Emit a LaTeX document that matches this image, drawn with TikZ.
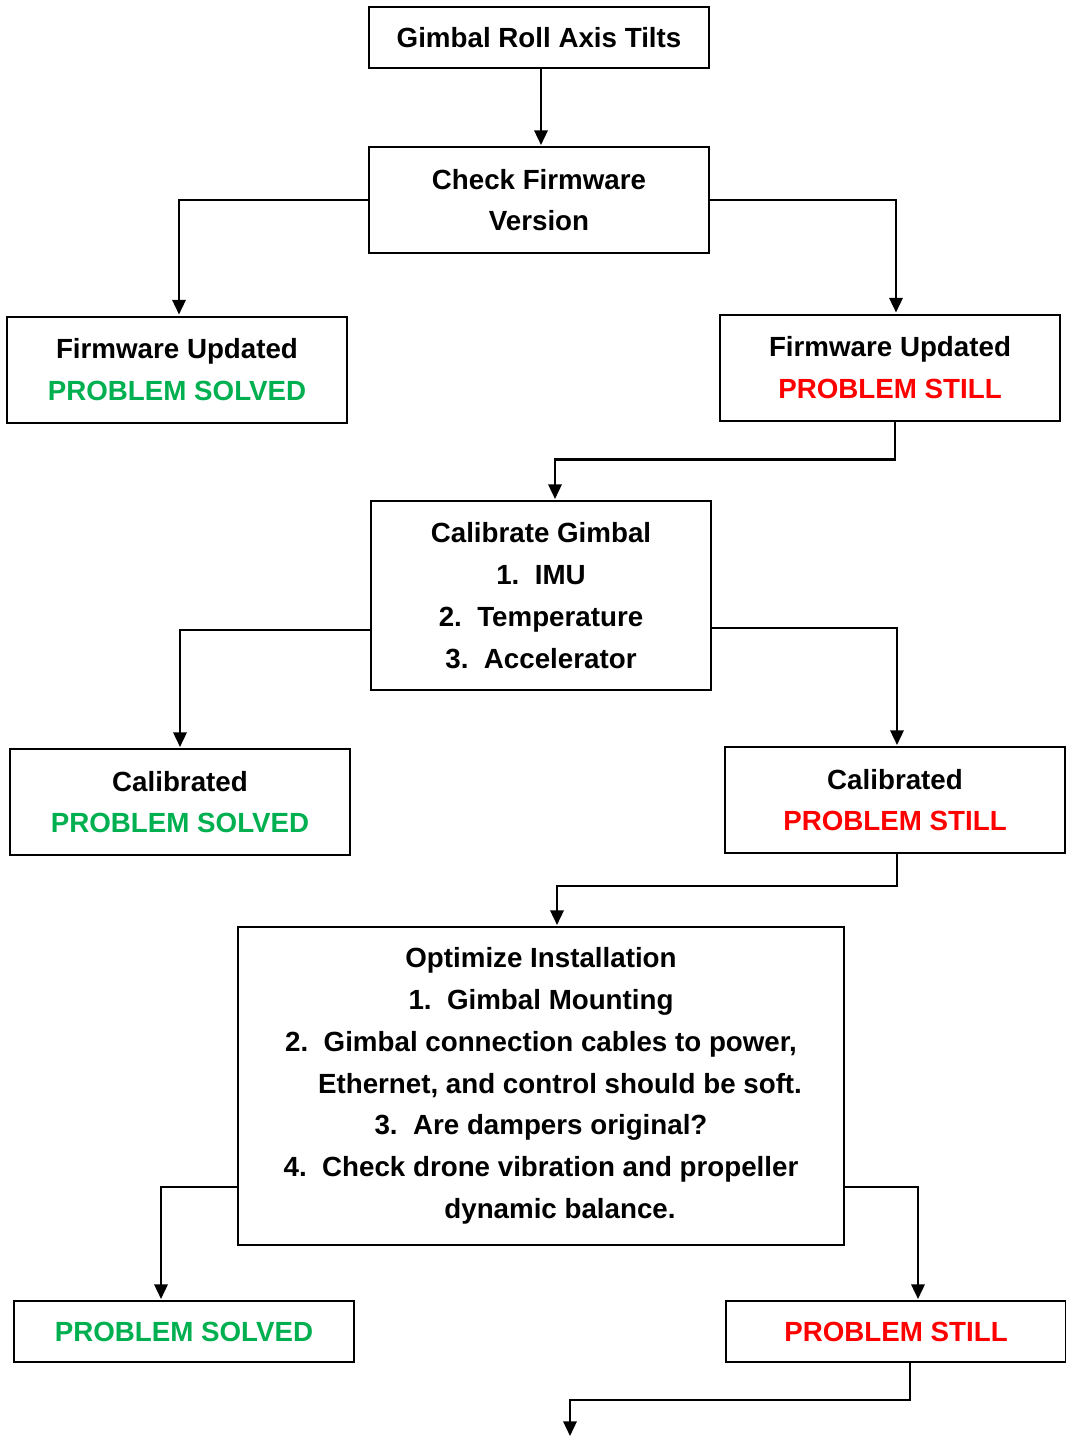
\documentclass[tikz,border=0pt]{standalone}
\usepackage{fontspec}
\setmainfont{Liberation Sans}
\usetikzlibrary{arrows.meta}
\definecolor{okgreen}{RGB}{0,176,80}
\definecolor{stillred}{RGB}{255,0,0}
\tikzstyle{box} = [draw, line width=1.5pt, inner sep=0pt, outer sep=0pt, align=center, minimum width=255pt, font=\fontsize{20.8}{31.3}\selectfont\bfseries]
\tikzstyle{arrow} = [line width=1.8pt, -{Triangle[width=10pt,length=11pt]}, shorten >=1.5pt]
\newcommand{\probsolved}{\textcolor{okgreen}{PROBLEM SOLVED}}
\newcommand{\probstill}{\textcolor{stillred}{PROBLEM STILL}}

\begin{document}
\begin{tikzpicture}[x=0.75pt, y=-0.75pt]
	\useasboundingbox (0,0) rectangle (1065,1438);
	% boxes
	\node[box, minimum height=45.75pt] (roll) at (539,37.5) {Gimbal Roll Axis Tilts};
	\node[box, minimum height=79.5pt] (check) at (539,200) {Check Firmware\\Version};
	\node[box, minimum height=79.5pt] (fwok) at (177,369.5) {Firmware Updated\\\probsolved};
	\node[box, minimum height=79.5pt] (fwbad) at (890,367.5) {Firmware Updated\\\probstill};
	\node[box, minimum height=141.75pt] (calib) at (541,595.5) {Calibrate Gimbal\\1.~~IMU\\2.~~Temperature\\3.~~Accelerator};
	\node[box, minimum height=79.5pt] (calok) at (180,802) {Calibrated\\\probsolved};
	\node[box, minimum height=79.5pt] (calbad) at (895,800) {Calibrated\\\probstill};
	\node[box, minimum width=454.5pt, minimum height=238.5pt] (opt) at (541,1086) {Optimize Installation\\1.~~Gimbal Mounting\\2.~~Gimbal connection cables to power,\\\hspace*{1.37em}Ethernet, and control should be soft.\\3.~~Are dampers original?\\4.~~Check drone vibration and propeller\\\hspace*{1.37em}dynamic balance.};
	\node[box, minimum height=45.75pt] (ok3) at (184,1331.5) {\probsolved};
	\node[box, minimum height=45.75pt] (bad3) at (896,1331.5) {\probstill};
	\coordinate (next) at (570,1438);
	% connectors
	\draw[arrow] ([xshift=1.5pt]roll.south) -- ([xshift=1.5pt]check.north);
	\draw[arrow] (check.west) -| ([xshift=1.5pt]fwok.north);
	\draw[arrow] (check.east) -| ([xshift=4.5pt]fwbad.north);
	\draw[arrow] ([xshift=3.75pt]fwbad.south) -- ++(0,39) -| ([xshift=10.5pt]calib.north);
	\draw[arrow] ([yshift=-26pt]calib.west) -| (calok.north);
	\draw[arrow] ([yshift=-24.4pt]calib.east) -| ([xshift=1.5pt]calbad.north);
	\draw[arrow] ([xshift=1.5pt]calbad.south) -- ++(0,33) -| ([xshift=12pt]opt.north);
	\draw[arrow] ([yshift=-75.75pt]opt.west) -| ([xshift=-17.25pt]ok3.north);
	\draw[arrow] ([yshift=-75.75pt]opt.east) -| ([xshift=16.5pt]bad3.north);
	\draw[arrow] ([xshift=10.5pt]bad3.south) -- ++(0,38) -| (next);
\end{tikzpicture}
\end{document}
